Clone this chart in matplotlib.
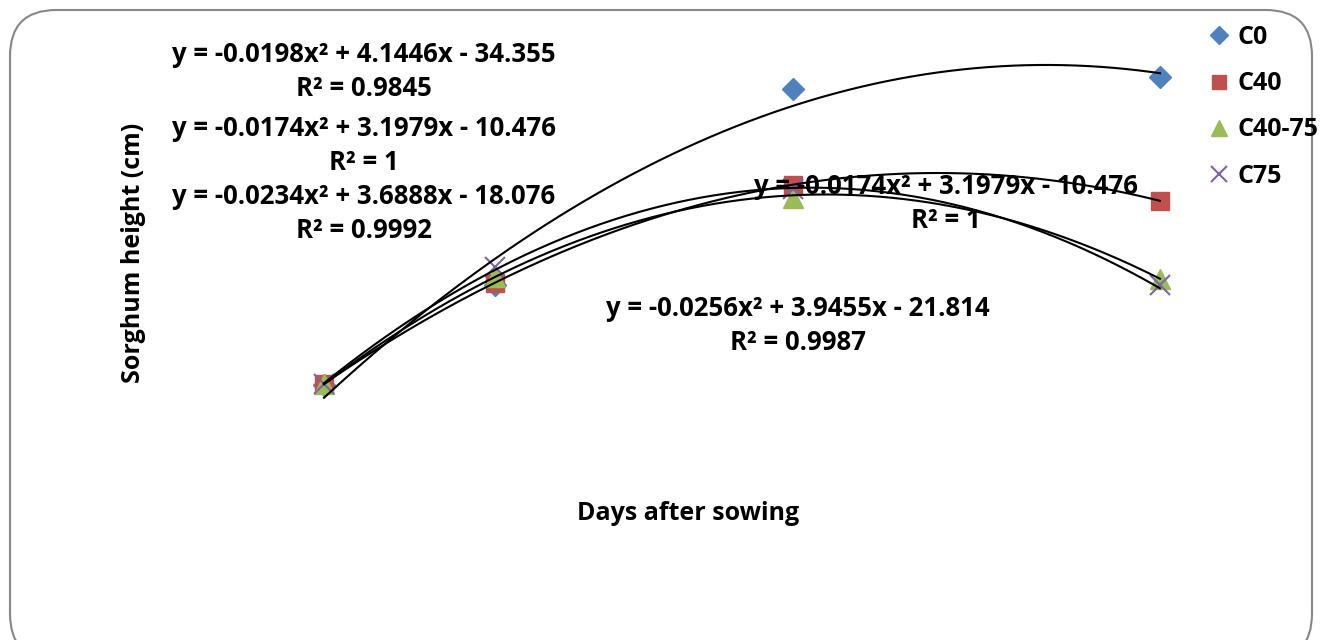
import matplotlib.pyplot as plt
import numpy as np
from matplotlib.patches import FancyBboxPatch

plt.rcParams['font.family'] = ['Open Sans', 'DejaVu Sans']

# sorghum height (cm) per treatment at each sampling date
days = [20, 40, 75, 118]
series_names = ['C0', 'C40', 'C40-75', 'C75']
c0 = [46.2, 88.8, 172.4, 177.2]
c40 = [46.5, 89.6, 131.5, 124.6]
c40_75 = [46.4, 92.0, 126.0, 91.2]
c75 = [46.5, 96.5, 129.5, 88.5]

# polynomial (order 2) trendlines: a*x^2 + b*x + c, with R²
trend_coefs = [(-0.0198, 4.1446, -34.355),
               (-0.0174, 3.1979, -10.476),
               (-0.0234, 3.6888, -18.076),
               (-0.0256, 3.9455, -21.814)]
r_squared = ['0.9845', '1', '0.9992', '0.9987']

colors = ['#4F81BD', '#C0504D', '#9BBB59', '#8064A2']
markers = ['D', 's', '^', 'x']
sizes = [11, 13, 14, 14]

W, H = 1322, 640
FS = 18
EQ_FS = 18.5
fig = plt.figure(figsize=(W / 100, H / 100), dpi=100)

def fx(px):
    return px / W

def fy(py):
    return 1 - py / H

# chart border with rounded corners
border = FancyBboxPatch((fx(10), fy(660)), fx(1302), 650 / H,
                        boxstyle='round,pad=0,rounding_size=0.035',
                        transform=fig.transFigure, facecolor='white',
                        edgecolor='#878787', lw=1.5, mutation_aspect=W / H,
                        zorder=-1)
fig.patches.append(border)

ax = fig.add_axes([153.4 / W, fy(493), 1066.25 / W, 469 / H])
ax.set_xlim(0, 125)
ax.set_ylim(0, 200)
ax.axis('off')

all_series = [c0, c40, c40_75, c75]
handles = []
for vals, name, col, mk, ms in zip(all_series, series_names, colors, markers, sizes):
    if mk == 'x':
        h, = ax.plot(days, vals, ls='none', marker=mk, ms=ms, mec=col, mew=1.5,
                     label=name, zorder=2)
    else:
        h, = ax.plot(days, vals, ls='none', marker=mk, ms=ms, mfc=col, mec=col,
                     label=name, zorder=2)
    handles.append(h)

xs = np.linspace(days[0], days[-1], 200)
for a, b, c in trend_coefs:
    ax.plot(xs, a * xs ** 2 + b * xs + c, color='black', lw=1.5, zorder=3)

# trendline equation labels
label_pos = [[(364, 55)], [(364, 128), (946, 186)], [(364, 197)], [(798, 309)]]
for (a, b, c), r2, spots in zip(trend_coefs, r_squared, label_pos):
    eq = f'y = {a:g}x² + {b:g}x - {-c:g}'
    for px, py in spots:
        fig.text(fx(px), fy(py), eq, ha='center', va='center',
                 fontsize=EQ_FS, fontweight='bold', zorder=5)
        fig.text(fx(px), fy(py + 34), f'R² = {r2}', ha='center', va='center',
                 fontsize=EQ_FS, fontweight='bold', zorder=5)

fig.text(fx(688), fy(514), 'Days after sowing', ha='center', va='center',
         fontsize=FS, fontweight='bold')
fig.text(fx(133), fy(253), 'Sorghum height (cm)', ha='center', va='center',
         rotation=90, fontsize=FS, fontweight='bold')

ax.legend(handles=handles, loc='upper left', bbox_to_anchor=(fx(1205), fy(20)),
          bbox_transform=fig.transFigure, frameon=False,
          prop={'weight': 'bold', 'size': FS}, handlelength=0.75,
          handletextpad=0.35, labelspacing=0.85, markerscale=0.8,
          borderaxespad=0, borderpad=0.2)

fig.savefig('out.png', dpi=100)
